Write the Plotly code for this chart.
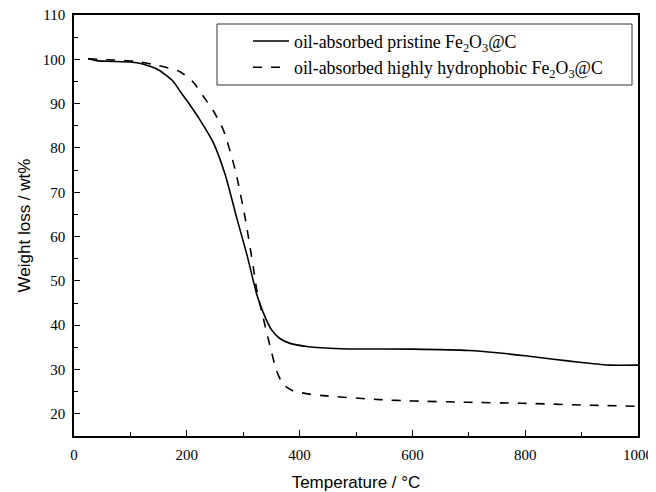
import plotly.graph_objects as go

# Solid: oil-absorbed pristine Fe2O3@C
t_pristine = [25, 40, 100, 120, 150, 176, 188, 205, 223, 247, 268, 289, 307, 324, 335, 350, 365, 383,
              413, 472, 600, 700, 750, 800, 850, 900, 950, 1000]
w_pristine = [100.2, 99.7, 99.4, 99.0, 97.6, 95.0, 92.8, 89.8, 86.4, 81.2, 74.0, 64.0, 55.7, 47.0, 43.0,
              39.0, 37.0, 35.9, 35.2, 34.7, 34.6, 34.3, 33.8, 33.1, 32.3, 31.6, 31.0, 31.0]

# Dashed: oil-absorbed highly hydrophobic Fe2O3@C
t_hydro = [25, 60, 105, 150, 188, 211, 230, 247, 265, 286, 303, 318, 324, 333, 347, 359, 371, 388,
           420, 442, 542, 601, 700, 791, 900, 1000]
w_hydro = [100.1, 99.9, 99.6, 98.6, 97.2, 94.9, 91.5, 88.4, 84.0, 75.0, 64.5, 53.0, 48.0, 43.0, 35.6,
           29.8, 26.6, 25.2, 24.4, 24.1, 23.2, 22.9, 22.6, 22.4, 22.0, 21.7]

names = ["oil-absorbed pristine Fe<sub>2</sub>O<sub>3</sub>@C",
         "oil-absorbed highly hydrophobic Fe<sub>2</sub>O<sub>3</sub>@C"]

fig = go.Figure()
fig.add_trace(go.Scatter(x=t_pristine, y=w_pristine, mode="lines", name=names[0],
                         line=dict(color="black", width=1.6, shape="spline", smoothing=0.6)))
fig.add_trace(go.Scatter(x=t_hydro, y=w_hydro, mode="lines", name=names[1],
                         line=dict(color="black", width=1.6, dash="dash", shape="spline", smoothing=0.6)))

axis_common = dict(showline=True, linecolor="black", linewidth=1.5, mirror=True,
                   ticks="inside", ticklen=6, tickwidth=1.3, tickcolor="black",
                   showgrid=False, zeroline=False, automargin=False, ticklabelstandoff=4,
                   ticklabeloverflow="allow",
                   tickfont=dict(family="Liberation Serif", size=15, color="black"))

# page body has an 8px margin, so the figure is sized/margined to land the plot at x 74-638, y 15-436
fig.update_layout(
    width=648, height=484,
    margin=dict(l=66, r=18, t=7, b=56),
    paper_bgcolor="white", plot_bgcolor="white",
    xaxis=dict(range=[0, 1000], dtick=200, tick0=0,
               minor=dict(dtick=100, ticks="inside", ticklen=4, tickwidth=1.3, tickcolor="black"),
               title=dict(text="Temperature / °C", standoff=16,
                          font=dict(family="Liberation Sans", size=17, color="black")),
               **axis_common),
    yaxis=dict(range=[15, 110], dtick=10, tick0=20,
               minor=dict(dtick=5, ticks="inside", ticklen=4, tickwidth=1.3, tickcolor="black"),
               title=dict(text="Weight loss / wt%", standoff=8,
                          font=dict(family="Liberation Sans", size=17, color="black")),
               **axis_common),
    legend=dict(x=(248 - 74) / 564, y=(436 - 23) / 421, xanchor="left", yanchor="top",
                bgcolor="rgba(0,0,0,0)", borderwidth=0, itemwidth=36,
                font=dict(family="Liberation Serif", size=17.8, color="black"),
                tracegroupgap=0),
    shapes=[dict(type="rect", xref="paper", yref="paper",
                 x0=(217 - 74) / 564, x1=(632 - 74) / 564,
                 y0=(436 - 85) / 421, y1=(436 - 24) / 421,
                 line=dict(color="#333", width=1), fillcolor="rgba(0,0,0,0)", layer="above")],
    showlegend=True,
)

fig.write_html("out.html")
